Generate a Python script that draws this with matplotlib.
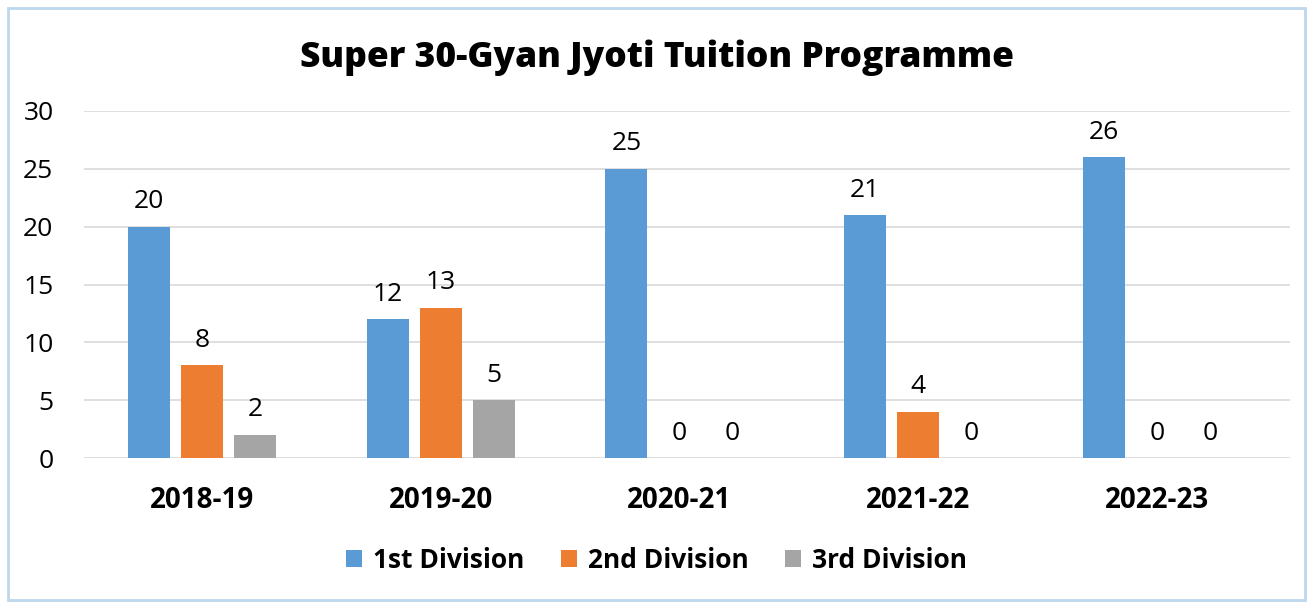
import numpy as np
import matplotlib.pyplot as plt
from matplotlib.patches import Rectangle

years = ['2018-19', '2019-20', '2020-21', '2021-22', '2022-23']
first_div = [20, 12, 25, 21, 26]
second_div = [8, 13, 0, 4, 0]
third_div = [2, 5, 0, 0, 0]
series_names = ['1st Division', '2nd Division', '3rd Division']
colors = ['#5B9BD5', '#ED7D31', '#A5A5A5']

plt.rcParams['font.family'] = ['Open Sans', 'DejaVu Sans']

fig = plt.figure(figsize=(13.13, 6.07), dpi=100)
ax = fig.add_axes([84 / 1313, 1 - 458 / 607, (1290 - 84) / 1313, (458 - 111) / 607])

# outer frame of the chart
fig.patches.append(Rectangle((8 / 1313, 7 / 607), 1297 / 1313, 592 / 607,
                             transform=fig.transFigure, fill=False,
                             edgecolor='#BDD7EE', linewidth=2))

x = np.arange(len(years))
width = 0.176
step = 0.222
for i, (vals, name) in enumerate(zip([first_div, second_div, third_div], series_names)):
    bars = ax.bar(x + (i - 1) * step, vals, width, color=colors[i], label=name, zorder=3)
    ax.bar_label(bars, padding=9, fontsize=19)

ax.set_xlim(-0.494, len(years) - 0.443)
ax.set_ylim(0, 30)
ax.set_yticks(range(0, 31, 5))
ax.yaxis.grid(True, color='#D9D9D9', linewidth=1.2, zorder=0)
ax.set_xticks(x)
ax.set_xticklabels(years, fontsize=20, fontweight='bold')
ax.tick_params(axis='x', length=0, pad=20)
ax.tick_params(axis='y', length=0, pad=22, labelsize=19)
for s in ax.spines.values():
    s.set_visible(False)

fig.suptitle('Super 30-Gyan Jyoti Tuition Programme', x=0.5, y=0.935,
             fontsize=25.5, fontweight='heavy')

fig.legend(loc='center', bbox_to_anchor=(0.5, 1 - 560 / 607), ncol=3, frameon=False,
           prop={'size': 19, 'weight': 'bold'}, handlelength=0.6, handleheight=0.6,
           handletextpad=0.4, columnspacing=1.4)

fig.savefig('out.png', dpi=100)
